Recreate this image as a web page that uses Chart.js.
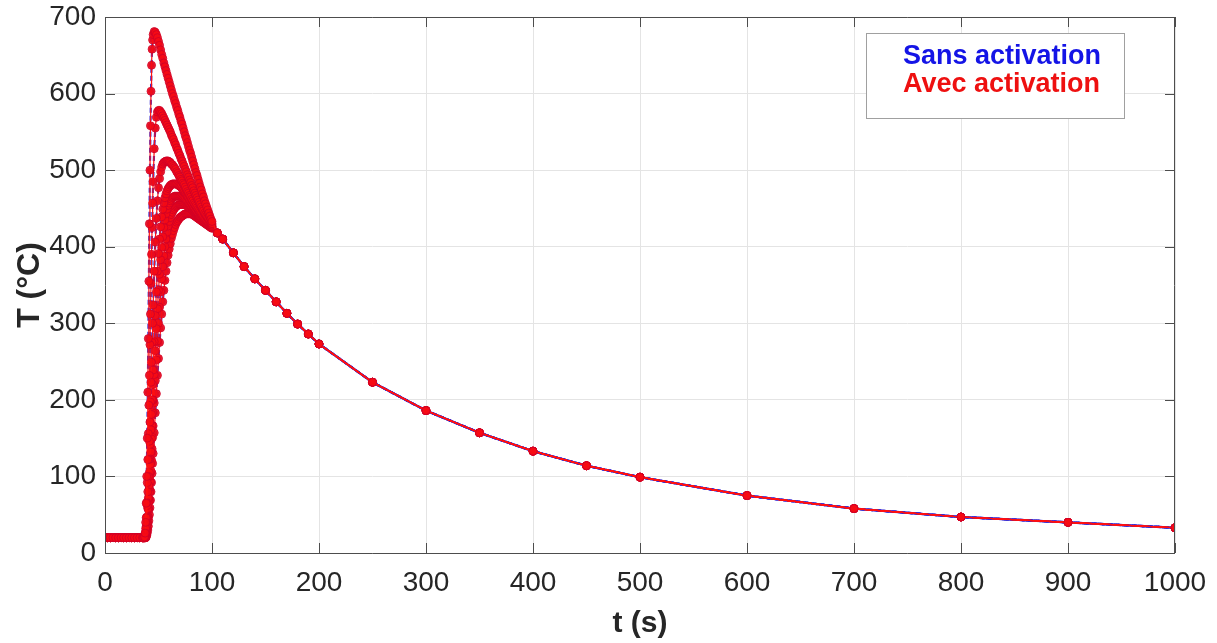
<!DOCTYPE html>
<html><head><meta charset="utf-8">
<script src="https://cdn.jsdelivr.net/npm/chart.js@4.4.1/dist/chart.umd.min.js"></script>
<style>html,body{margin:0;padding:0;background:#fff;}#wrap{width:1217px;height:643px;}</style>
</head><body><div id="wrap"><canvas id="c" width="1217" height="643"></canvas></div>
<script>
// time grid (s) for the heating phase, shared by every curve
const tEarly = [0,2.5,5,7.5,10,12.5,15,17.5,20,22.5,25,27.5,30,32.5,35,
  36,37,37.5,38,38.5,39,39.5,40,40.5,41,41.5,42,42.5,43,43.5,44,44.5,45,
  46,47,48,49,50,51,52,53,54,55,56,57,58,59,60,61,62,63,64,65,66,67,68,69,70,71,72,73,74,75,
  76,77,78,79,80,81,82,83,84,85,86,87,88,89,90,91,92,93,94,95,96,97,98,99,100];
const flat = [20,20,20,20,20,20,20,20,20,20,20,20,20,20,20];
// common cooling tail
const tTail = [105,110,120,130,140,150,160,170,180,190,200,250,300,350,400,450,500,600,700,800,900,1000];
const tempTail = [418,410,392,374,358,343,328,313,299,286,273,223,186,157,133,114,99,75,58,47,40,33];

const curve1 = [20,21,26,40,65,100,150,210,280,355,430,500,558,603,637,658,670,677,
  681,680,677,673,668,663,657,651,646,640, 635,630,625,620,615,610,605,600,596,591,
  587,582,578,573,569,564,560,555,550,545, 541,536,531,526,522,517,512,507,502,497,
  493,488,483,478,474,469,465,460,456,452, 448,444,440,436,433];
const curve2 = [20,21,24,32,46,66,92,122,156,193,232,272,312,352,390,425,457,485,
  528,555,569,576,578,578,576,574,571,568, 565,562,559,556,553,550,546,543,540,536,
  533,529,526,522,519,515,512,508,505,501, 498,494,491,487,484,480,477,473,470,467,
  464,461,458,455,452,449,447,444,442,440, 438,436,434,432,430];
const curve3 = [20,20,22,27,35,47,62,80,100,122,146,171,197,223,249,275,300,324,
  368,406,437,460,477,489,498,504,508,510, 511,512,512,512,511,510,508,507,505,503,
  501,498,496,493,491,488,486,483,481,478, 475,472,470,467,465,462,460,457,455,453,
  451,449,447,445,443,441,439,437,436,434, 433,431,430,429,428];
const curve4 = [20,20,21,24,29,36,46,58,72,88,105,123,142,161,181,200,220,239,
  276,310,341,368,391,410,426,439,449,457, 464,469,473,476,478,480,481,482,482,482,
  482,482,481,480,479,478,476,474,472,470, 468,466,464,461,459,457,455,452,450,448,
  446,444,442,440,439,437,436,434,433,431, 430,429,428,427,426];
const curve5 = [20,20,20,22,26,31,38,47,58,71,85,100,116,132,149,166,183,200,
  233,264,293,319,343,364,383,399,413,425, 435,443,449,454,457,460,462,464,465,466,
  466,466,466,466,466,466,465,464,463,462, 460,459,457,456,454,452,450,449,447,445,
  443,442,440,439,437,436,434,433,432,431, 430,429,428,427,426];
const curve6 = [20,20,20,21,23,27,32,39,47,57,68,80,93,107,121,136,151,166,
  196,225,252,277,300,321,341,358,374,388, 400,410,419,427,433,438,442,445,448,450,
  452,453,454,455,455,455,455,455,455,455, 454,453,452,451,450,449,447,446,444,443,
  441,440,438,437,436,434,433,432,431,430, 429,428,427,426,425];
const curve7 = [20,20,20,20,21,23,26,30,35,42,50,59,69,80,92,104,117,130,
  157,183,208,232,254,275,294,312,328,343, 356,368,379,389,397,404,411,416,421,425,
  429,432,434,436,438,439,440,441,442,443, 443,443,443,443,443,443,442,441,440,439,
  438,437,436,435,434,433,432,431,430,429, 428,427,426,425,424];

const curves = [curve1, curve2, curve3, curve4, curve5, curve6, curve7];
const seriesNames = ['Sans activation', 'Avec activation'];
const xTickValues = [0,100,200,300,400,500,600,700,800,900,1000];
const yTickValues = [0,100,200,300,400,500,600,700];

const FONT = "'Liberation Sans', Arial, Helvetica, sans-serif";

function toPoints(vals) {
  const all = flat.concat(vals);
  const pts = tEarly.map((t, i) => ({x: t, y: all[i]}));
  tTail.forEach((t, i) => pts.push({x: t, y: tempTail[i]}));
  return pts;
}

const datasets = [];
curves.forEach((c) => {
  datasets.push({
    label: seriesNames[1], data: toPoints(c), order: 0,
    borderColor: '#ff1010', borderWidth: 1.2,
    pointRadius: 4, pointBackgroundColor: 'rgba(246,10,20,0.86)',
    pointBorderColor: 'rgba(205,0,40,0.8)', pointBorderWidth: 1
  });
});
curves.forEach((c) => {
  datasets.push({
    label: seriesNames[0], data: toPoints(c), order: 1,
    borderColor: '#3a2cd0', borderWidth: 2.2, borderDash: [5, 3],
    pointRadius: 3, pointBackgroundColor: '#7a1a80', pointBorderWidth: 0
  });
});

const framePlugin = {
  id: 'frame',
  afterDatasetsDraw(chart) {
    const {ctx, chartArea: a, scales: {x, y}} = chart;
    ctx.save();
    ctx.strokeStyle = '#4d4d4d';
    ctx.lineWidth = 1;
    ctx.beginPath();
    ctx.rect(a.left + 0.5, a.top + 0.5, a.right - a.left - 1, a.bottom - a.top);
    const L = 10;
    xTickValues.forEach(v => {
      const px = Math.round(x.getPixelForValue(v)) + 0.5;
      ctx.moveTo(px, a.bottom); ctx.lineTo(px, a.bottom - L);
      ctx.moveTo(px, a.top); ctx.lineTo(px, a.top + L);
    });
    yTickValues.forEach(v => {
      const py = Math.round(y.getPixelForValue(v)) + 0.5;
      ctx.moveTo(a.left, py); ctx.lineTo(a.left + L, py);
      ctx.moveTo(a.right, py); ctx.lineTo(a.right - L, py);
    });
    ctx.stroke();
    ctx.restore();
  },
  afterDraw(chart) {
    const {ctx} = chart;
    ctx.save();
    ctx.fillStyle = '#ffffff';
    ctx.fillRect(866, 33, 258, 85);
    ctx.strokeStyle = '#a0a0a0';
    ctx.lineWidth = 1;
    ctx.strokeRect(866.5, 33.5, 258, 85);
    ctx.font = 'bold 27px ' + FONT;
    ctx.textAlign = 'left';
    ctx.textBaseline = 'alphabetic';
    ctx.fillStyle = '#1414e6';
    ctx.fillText(seriesNames[0], 903, 64);
    ctx.fillStyle = '#ee1010';
    ctx.fillText(seriesNames[1], 903, 92);
    ctx.restore();
  }
};

new Chart(document.getElementById('c'), {
  type: 'line',
  data: {datasets},
  options: {
    responsive: false, animation: false, devicePixelRatio: 1,
    layout: {padding: {top: 17, right: 42, bottom: 0, left: 0}},
    plugins: {legend: {display: false}, tooltip: {enabled: false}},
    elements: {line: {tension: 0}},
    scales: {
      x: {
        type: 'linear', min: 0, max: 1000,
        afterFit(s) { s.height = 90; s.paddingLeft = 0; s.paddingRight = 0; },
        afterBuildTicks(s) { s.ticks = xTickValues.map(v => ({value: v})); },
        grid: {color: '#e4e4e4', drawTicks: false},
        border: {display: false},
        ticks: {font: {family: FONT, size: 28}, color: '#262626', padding: 13, maxRotation: 0,
                callback: (v) => String(v)},
        title: {display: true, text: 't (s)', font: {family: FONT, size: 30, weight: 'bold'}, color: '#262626', padding: {top: 0, bottom: 1}}
      },
      y: {
        min: 0, max: 700,
        afterFit(s) { s.width = 105; s.paddingTop = 0; s.paddingBottom = 0; },
        afterBuildTicks(s) { s.ticks = yTickValues.map(v => ({value: v})); },
        grid: {color: '#e4e4e4', drawTicks: false},
        border: {display: false},
        ticks: {font: {family: FONT, size: 28}, color: '#262626', padding: 9,
                callback: (v) => String(v)},
        title: {display: true, text: 'T (°C)', font: {family: FONT, size: 32, weight: 'bold'}, color: '#262626', padding: {top: 11, bottom: 0}}
      }
    }
  },
  plugins: [framePlugin]
});
</script></body></html>
